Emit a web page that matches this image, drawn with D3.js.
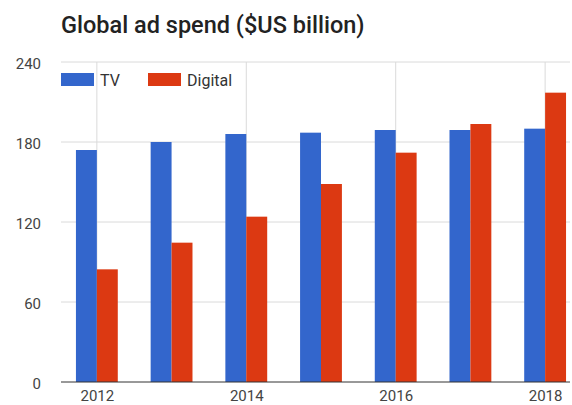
<!DOCTYPE html>
<html>
<head>
<meta charset="utf-8">
<script src="https://cdn.jsdelivr.net/npm/d3@7"></script>
<style>
  html, body { margin: 0; padding: 0; background: #fff; }
  svg { display: block; font-family: Roboto, "Noto Sans", sans-serif; }
</style>
</head>
<body>
<svg id="chart" width="572" height="405"></svg>
<script>
// Global ad spend, $US billion
const years = [2012, 2013, 2014, 2015, 2016, 2017, 2018];
const tvSpend = [174, 180, 186, 187, 189, 189, 190];
const digitalSpend = [84.5, 104.5, 124, 148.5, 172, 193.5, 217];
const seriesNames = ["TV", "Digital"];
const seriesColors = ["#3366cc", "#dc3912"];
const yTicks = [0, 60, 120, 180, 240];
const xTicks = [2012, 2014, 2016, 2018];
const titleText = "Global ad spend ($US billion)";

(function draw() {
  const svg = d3.select("#chart");
  const plotLeft = 61, plotRight = 570, plotTop = 62, plotBottom = 382;

  const x = d3.scaleLinear().domain([2011.52, 2018.333]).range([plotLeft, plotRight]);
  const y = d3.scaleLinear().domain([0, 240]).range([plotBottom, plotTop]);
  const barSpan = 0.28; // bar width in years

  // title
  svg.append("text")
    .attr("x", 61).attr("y", 33)
    .attr("font-size", 23.5).attr("font-weight", 500)
    .attr("fill", "#222")
    .text(titleText);

  // horizontal grid
  svg.append("g").selectAll("line")
    .data(yTicks.filter(d => d > 0))
    .join("line")
    .attr("x1", plotLeft).attr("x2", plotRight)
    .attr("y1", d => y(d)).attr("y2", d => y(d))
    .attr("stroke", "#dadada").attr("stroke-width", 1);

  // vertical grid
  svg.append("g").selectAll("line")
    .data(xTicks)
    .join("line")
    .attr("x1", d => x(d)).attr("x2", d => x(d))
    .attr("y1", plotTop).attr("y2", plotBottom)
    .attr("stroke", "#dadada").attr("stroke-width", 1);

  // y axis labels
  const yAxis = d3.axisLeft(y).tickValues(yTicks).tickSize(0).tickPadding(0);
  svg.append("g")
    .attr("transform", `translate(${plotLeft - 20},0)`)
    .call(yAxis)
    .call(g => g.select(".domain").remove())
    .call(g => g.selectAll("text")
      .attr("font-size", 15).attr("font-family", "Roboto, sans-serif")
      .attr("fill", "#444").attr("dy", "0.43em"));

  // x axis labels
  const xAxis = d3.axisBottom(x).tickValues(xTicks).tickFormat(d3.format("d")).tickSize(0).tickPadding(0);
  svg.append("g")
    .attr("transform", `translate(0,${plotBottom})`)
    .call(xAxis)
    .call(g => g.select(".domain").remove())
    .call(g => g.selectAll("text")
      .attr("font-size", 15).attr("font-family", "Roboto, sans-serif")
      .attr("fill", "#444").attr("y", 19).attr("dy", 0));

  // bars: TV left of the year line, Digital right of it
  const rows = years.map((yr, i) => ({ year: yr, values: [tvSpend[i], digitalSpend[i]] }));
  const groups = svg.append("g").selectAll("g")
    .data(rows)
    .join("g");
  groups.selectAll("rect")
    .data(d => d.values.map((v, s) => ({ year: d.year, value: v, s })))
    .join("rect")
    .attr("x", d => x(d.s === 0 ? d.year - barSpan : d.year))
    .attr("width", d => x(d.year + barSpan) - x(d.year))
    .attr("y", d => y(d.value))
    .attr("height", d => y(0) - y(d.value))
    .attr("fill", d => seriesColors[d.s]);

  // baseline
  svg.append("line")
    .attr("x1", plotLeft).attr("x2", plotRight)
    .attr("y1", y(0)).attr("y2", y(0))
    .attr("stroke", "#333").attr("stroke-width", 1);

  // legend
  const legendX = [61, 148];
  const legend = svg.append("g").selectAll("g")
    .data(seriesNames)
    .join("g")
    .attr("transform", (d, i) => `translate(${legendX[i]},73)`);
  legend.append("rect")
    .attr("width", 33).attr("height", 13)
    .attr("fill", (d, i) => seriesColors[i]);
  legend.append("text")
    .attr("x", 39).attr("y", 13)
    .attr("font-size", 16).attr("fill", "#333")
    .text(d => d);
})();
</script>
</body>
</html>
